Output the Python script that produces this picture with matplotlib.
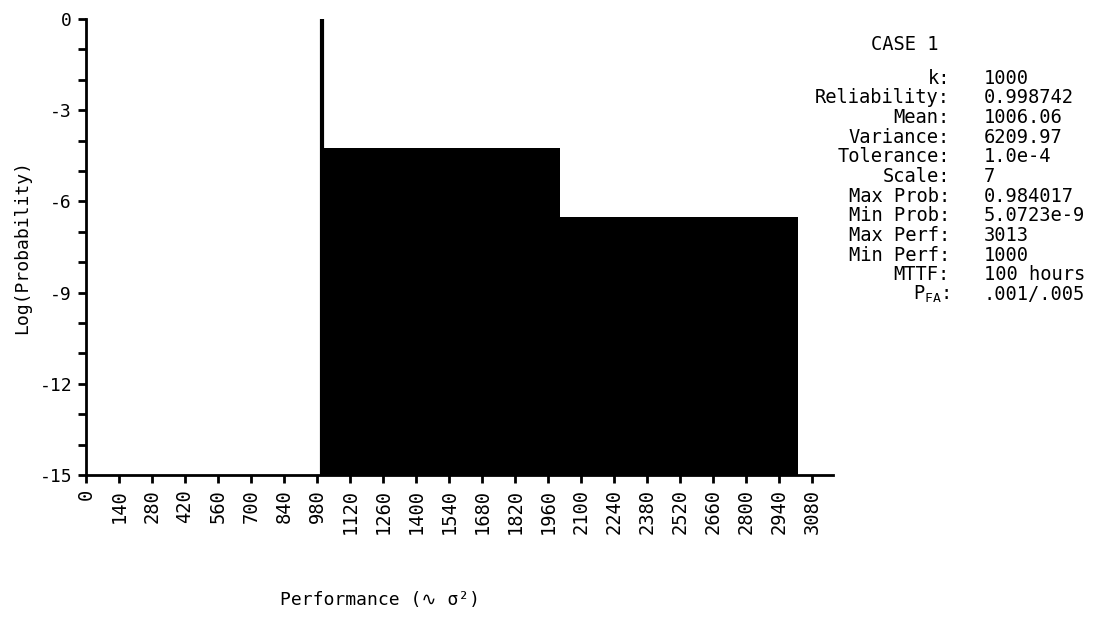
import matplotlib
matplotlib.use("Agg")
import matplotlib.pyplot as plt
import numpy as np

# Data (log10 probability vs performance)
spike_perf = 1000
spike_logp = -0.007          # log10(0.984017)
step_edges = [1000, 2010, 3020]
step_levels = [-4.25, -6.5]
floor_level = -15

x_ticks = list(range(0, 3081, 140))
y_major = [0, -3, -6, -9, -12, -15]
y_minor = list(range(-15, 1))

info_labels = ["k:", "Reliability:", "Mean:", "Variance:", "Tolerance:", "Scale:",
               "Max Prob:", "Min Prob:", "Max Perf:", "Min Perf:", "MTTF:", r"P$_{\mathrm{FA}}$:"]
info_values = ["1000", "0.998742", "1006.06", "6209.97", "1.0e-4", "7",
               "0.984017", "5.0723e-9", "3013", "1000", "100 hours", ".001/.005"]

FAM = ['DejaVu Sans Mono', 'DejaVu Sans', 'Noto Sans', 'Liberation Sans',
       'Noto Sans CJK SC', 'Open Sans', 'Roboto', 'Lato', 'Inter']

plt.rcParams['font.family'] = FAM
plt.rcParams['mathtext.fontset'] = 'custom'
plt.rcParams['mathtext.rm'] = 'DejaVu Sans Mono'
plt.rcParams['mathtext.it'] = 'DejaVu Sans Mono'

W, H = 1096, 629
fig = plt.figure(figsize=(W / 100, H / 100), dpi=100)
ax = fig.add_axes([86 / W, (H - 475) / H, (833 - 86) / W, (475 - 19) / H])

# filled step region
xs = np.array(step_edges, dtype=float)
ys = np.array(step_levels + [step_levels[-1]], dtype=float)
ax.fill_between(xs, ys, floor_level, step='post', color='black', linewidth=0)
ax.plot([spike_perf, spike_perf], [floor_level, spike_logp], color='black', lw=3,
        solid_capstyle='round')

ax.set_xlim(0, 3170)
ax.set_ylim(-15, 0)
for s in ['top', 'right']:
    ax.spines[s].set_visible(False)
for s in ['left', 'bottom']:
    ax.spines[s].set_linewidth(2)

ax.set_xticks(x_ticks)
ax.set_xticklabels([str(v) for v in x_ticks], rotation=90, fontsize=13.5)
ax.set_yticks(y_major)
ax.set_yticklabels([str(v) for v in y_major], fontsize=13)
ax.set_yticks(y_minor, minor=True)
ax.tick_params(axis='both', which='both', direction='out', length=6, width=2, pad=4)

ax.set_ylabel("Log(Probability)", fontsize=13, labelpad=6)
fig.text(380 / W, 1 - 600 / H, "Performance (\u223f \u03c3\u00b2)", fontsize=13,
         ha='center', va='center')

# info block
fig.text(905 / W, 1 - 44 / H, "CASE 1", fontsize=13.5, ha='center', va='center')
y0 = 78
dy = 19.7
for i, (lab, val) in enumerate(zip(info_labels, info_values)):
    yy = 1 - (y0 + i * dy) / H
    fig.text(950 / W, yy, lab, fontsize=13.5, ha='right', va='center')
    fig.text(984 / W, yy, val, fontsize=13.5, ha='left', va='center')

fig.savefig("out.png", dpi=100, facecolor='white')
